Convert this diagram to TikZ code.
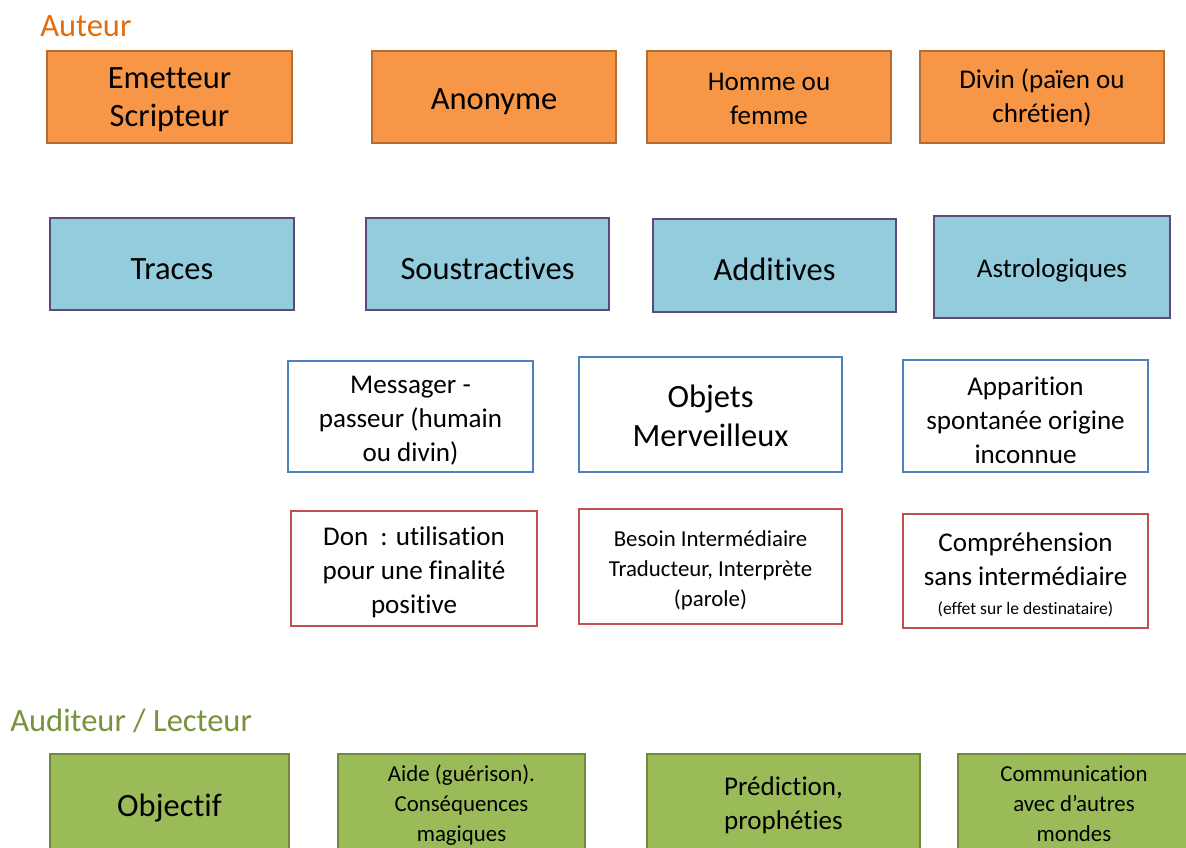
\documentclass[tikz,border=0pt]{standalone}
\usepackage{fontspec}
\setmainfont{Carlito}[Ligatures=NoCommon]
\usepackage{xcolor}
\usetikzlibrary{positioning}

\definecolor{orfill}{HTML}{F79646}
\definecolor{ordraw}{HTML}{B66D31}
\definecolor{tlfill}{HTML}{93CDDD}
\definecolor{tldraw}{HTML}{5F497A}
\definecolor{bldraw}{HTML}{4F81BD}
\definecolor{rddraw}{HTML}{C0504D}
\definecolor{grfill}{HTML}{9BBB59}
\definecolor{grdraw}{HTML}{71893F}
\definecolor{ortext}{HTML}{E46C0A}
\definecolor{grtext}{HTML}{77933C}

\newcommand{\bigtxt}{\fontsize{18.5}{22.1}\selectfont}
\newcommand{\midtxt}{\fontsize{15.4}{19.3}\selectfont}
\newcommand{\smalltxt}{\fontsize{13}{17}\selectfont}
\newcommand{\tinytxt}{\fontsize{10}{12}\selectfont}
\newcommand{\up}[1][4pt]{\rule{0pt}{\dimexpr0.72em+#1\relax}}

\tikzset{
  box/.style={rectangle, inner sep=0pt, align=center, line width=1.5pt,
    execute at begin node=\up},
  orangebox/.style={box, fill=orfill, draw=ordraw, minimum height=92*0.02cm},
  tealbox/.style={box, fill=tlfill, draw=tldraw},
  bluebox/.style={box, fill=white, draw=bldraw},
  redbox/.style={box, fill=white, draw=rddraw},
  greenbox/.style={box, fill=grfill, draw=grdraw, minimum height=100*0.02cm},
  title/.style={anchor=west, inner sep=0pt, font=\bigtxt}
}

\begin{document}
\begin{tikzpicture}[x=0.02cm, y=-0.02cm]
\clip (0,0) rectangle (1186,848);
\fill[white] (0,0) rectangle (1186,848);

% Auteur
\node[title, text=ortext] (aut) at (40,26) {Auteur};
\node[orangebox, minimum width=245*0.02cm, font=\bigtxt] (emet) at (169.5,97) {\up[1.7pt]Emetteur\\Scripteur};
\node[orangebox, minimum width=244*0.02cm, font=\bigtxt] (anon) at (494,97) {Anonyme};
\node[orangebox, minimum width=244*0.02cm, font=\midtxt] (homme) at (769,97) {\up[0.6pt]Homme ou\\femme};
\node[orangebox, minimum width=244*0.02cm, font=\midtxt] (divin) at (1042,97) {\up[0.6pt]Divin (païen ou\\chrétien)};

% traces
\node[tealbox, minimum width=244*0.02cm, minimum height=92*0.02cm, font=\bigtxt] (traces) at (172,264) {Traces};
\node[tealbox, minimum width=243*0.02cm, minimum height=92*0.02cm, font=\bigtxt] (soustr) at (487.5,264) {Soustractives};
\node[tealbox, minimum width=243*0.02cm, minimum height=93*0.02cm, font=\bigtxt] (addit) at (774.5,265.5) {Additives};
\node[tealbox, minimum width=236*0.02cm, minimum height=102*0.02cm, font=\midtxt] (astro) at (1052,267) {Astrologiques};

\node[bluebox, minimum width=245*0.02cm, minimum height=111*0.02cm, font=\midtxt] (mess) at (410.5,416.5) {\up Messager -\\passeur (humain\\ou divin)};
\node[bluebox, minimum width=263*0.02cm, minimum height=115*0.02cm, font=\bigtxt] (objets) at (710.5,414.5) {\up[0.6pt]Objets\\Merveilleux};
\node[bluebox, minimum width=245*0.02cm, minimum height=112*0.02cm, font=\midtxt] (appar) at (1025.5,416) {\up Apparition\\spontanée origine\\inconnue};

\node[redbox, minimum width=246*0.02cm, minimum height=115*0.02cm, font=\midtxt] (don) at (414,568.5) {\up Don~~: utilisation\\pour une finalité\\positive};
\node[redbox, minimum width=263*0.02cm, minimum height=115*0.02cm, font=\smalltxt] (besoin) at (710.5,566.5) {\up Besoin Intermédiaire\\Traducteur, Interprète\\(parole)};
\node[redbox, minimum width=245*0.02cm, minimum height=114*0.02cm, font=\midtxt] (compr) at (1025.5,571) {\up Compréhension\\sans intermédiaire\\[-2.8pt]{\tinytxt(effet sur le destinataire)}};

% Auditeur
\node[title, text=grtext] (audi) at (10,721) {Auditeur / Lecteur};
\node[greenbox, minimum width=239*0.02cm, font=\bigtxt] (objectif) at (169.5,804) {Objectif};
\node[greenbox, minimum width=247*0.02cm, font=\smalltxt] (aide) at (461.5,804) {\up[1.7pt]Aide (guérison).\\Conséquences\\magiques};
\node[greenbox, minimum width=273*0.02cm, font=\midtxt] (predic) at (783.5,804) {\up[0.6pt]Prédiction,\\prophéties};
\node[greenbox, minimum width=232*0.02cm, font=\smalltxt] (commu) at (1074,804) {Communication\\avec d’autres\\mondes};
\end{tikzpicture}
\end{document}
